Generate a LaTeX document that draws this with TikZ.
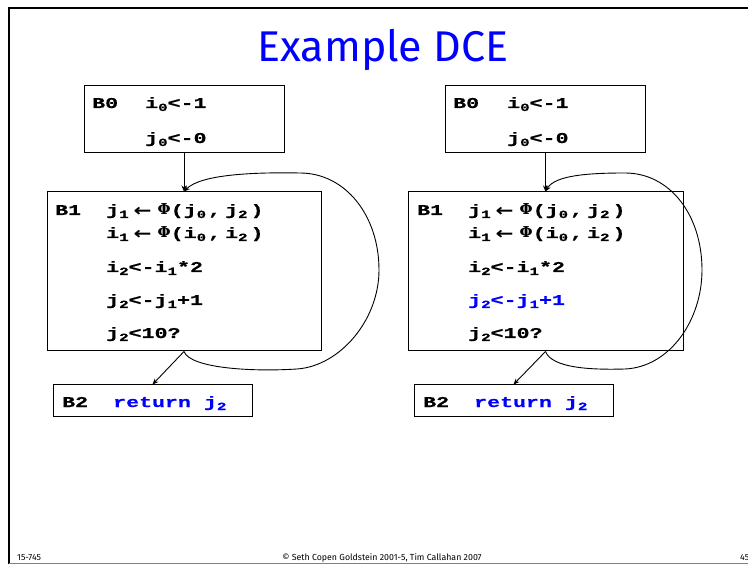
\documentclass[tikz,border=0pt]{standalone}
\usepackage{fontspec}
\usepackage{tikz}
\usetikzlibrary{arrows.meta}
\newfontfamily\codefont[FakeStretch=1.44,FakeBold=0.6]{Liberation Mono}
\newfontfamily\greekfont{DejaVu Serif}
\newfontfamily\arrowfont{DejaVu Sans}
\newfontfamily\slidefont{Fira Sans}
\newcommand{\subx}[1]{\raisebox{-3pt}{\fontsize{11}{11}\selectfont #1}}
\newcommand{\phiarrow}{\raisebox{-1.5pt}{\resizebox{18pt}{\height}{\arrowfont\bfseries\fontsize{17}{17}\selectfont ←}}}
\newcommand{\bigphi}{{\greekfont\bfseries\fontsize{15}{15}\selectfont Φ}}
\definecolor{slideblue}{RGB}{0,0,255}

\begin{document}
\begin{tikzpicture}[x=1pt, y=-1pt,
    block/.style={draw, line width=1pt, inner sep=0pt},
    code/.style={anchor=base west, inner sep=0pt, font=\codefont\bfseries\fontsize{15}{15}\selectfont},
    flow/.style={line width=0.9pt, -{Stealth[length=6pt, width=5pt]}},
    foot/.style={inner sep=0pt, font=\slidefont\fontsize{8.8}{8.8}\selectfont}]
		\useasboundingbox (0,0) rectangle (748,564);
		\clip (0,0) rectangle (748,564);

		% Slide frame and title
		\draw[line width=2.5pt] (9,570) -- (9,8) -- (760,8);
		\draw[gray, line width=1pt] (9,563) -- (760,563);
		\node[font=\slidefont\fontsize{43}{43}\selectfont, text=slideblue, anchor=base, inner sep=0pt] (title) at (383,62) {Example DCE};

		% Left graph: the blocks
		\node[block, minimum width=200pt, minimum height=67pt] (b0l) at (184,119.5) {};
		\node[block, minimum width=274pt, minimum height=159pt] (b1l) at (184,271.5) {};
		\node[block, minimum width=199pt, minimum height=32pt] (b2l) at (152.5,401) {};

		% Left graph: the code
		\node[code] (b0lname) at (92,108) {B0};
		\node[code] (b0la) at (145,108) {i\subx0<-1};
		\node[code] (b0lb) at (145,143) {j\subx0<-0};
		\node[code] (b1lname) at (55,215) {B1};
		\node[code] (b1la) at (106,215) {j\subx1\kern5pt\phiarrow\kern6pt\bigphi(j\subx0\kern2pt,\kern4pt j\subx2\kern3pt)};
		\node[code] (b1lb) at (106,238) {i\subx1\kern5pt\phiarrow\kern6pt\bigphi(i\subx0\kern2pt,\kern4pt i\subx2\kern3pt)};
		\node[code] (b1lc) at (106,272) {i\subx2<-i\subx1*2};
		\node[code] (b1ld) at (106,305) {j\subx2<-j\subx1+1};
		\node[code] (b1le) at (106,338) {j\subx2<10?};
		\node[code] (b2lname) at (62,407) {B2};
		\node[code, text=slideblue] (b2la) at (113,407) {return j\subx2};

		% Left graph: the edges
		\draw[flow] (b0l) -- (b1l);
		\draw[flow] (b1l.south) -- (b2l.north);
		\draw[flow] (b1l.south) .. controls (190,368) and (250,372) .. (297,369)
			.. controls (340,366) and (379,320) .. (379,270)
			.. controls (379,215) and (345,173) .. (300,173)
			.. controls (250,172) and (200,175) .. (b1l.north);

		% Right graph: the blocks
		\node[block, minimum width=200pt, minimum height=67pt] (b0r) at (545.5,119.5) {};
		\node[block, minimum width=275pt, minimum height=159pt] (b1r) at (545.5,271.5) {};
		\node[block, minimum width=199pt, minimum height=32pt] (b2r) at (513.5,401) {};

		% Right graph: the code, dead statement in blue
		\node[code] (b0rname) at (453,108) {B0};
		\node[code] (b0ra) at (507,108) {i\subx0<-1};
		\node[code] (b0rb) at (507,143) {j\subx0<-0};
		\node[code] (b1rname) at (417,215) {B1};
		\node[code] (b1ra) at (468,215) {j\subx1\kern5pt\phiarrow\kern6pt\bigphi(j\subx0\kern2pt,\kern4pt j\subx2\kern3pt)};
		\node[code] (b1rb) at (468,238) {i\subx1\kern5pt\phiarrow\kern6pt\bigphi(i\subx0\kern2pt,\kern4pt i\subx2\kern3pt)};
		\node[code] (b1rc) at (468,272) {i\subx2<-i\subx1*2};
		\node[code, text=slideblue] (b1rd) at (468,305) {j\subx2<-j\subx1+1};
		\node[code] (b1re) at (468,338) {j\subx2<10?};
		\node[code] (b2rname) at (423,407) {B2};
		\node[code, text=slideblue] (b2ra) at (474,407) {return j\subx2};

		% Right graph: the edges
		\draw[flow] (b0r) -- (b1r);
		\draw[flow] (b1r.south) -- (b2r.north);
		\draw[flow] (b1r.south) .. controls (552,368) and (590,370) .. (625,369)
			.. controls (670,367) and (702,320) .. (702,270)
			.. controls (702,215) and (670,173) .. (625,173)
			.. controls (590,173) and (555,175) .. (b1r.north);

		% Footer
		\node[foot, anchor=base west] (course) at (17,560) {15-745};
		\node[foot, anchor=base] (credit) at (382,560) {© Seth Copen Goldstein 2001-5, Tim Callahan 2007};
		\node[foot, anchor=base west] (page) at (740,560) {45};
	\end{tikzpicture}
\end{document}
